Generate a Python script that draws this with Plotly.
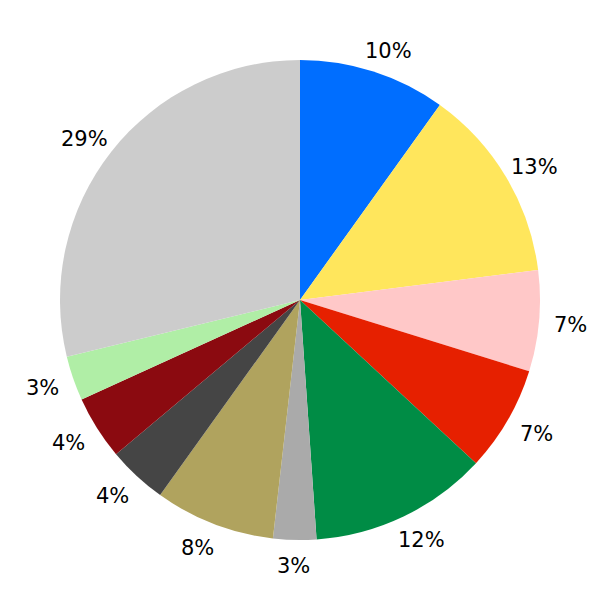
import math
import plotly.graph_objects as go

labels = ["A", "B", "C", "D", "E", "F", "G", "H", "I", "J", "K"]
values = [9.9, 13.1, 6.8, 7.1, 12.0, 2.9, 8.1, 4.0, 4.3, 3.0, 28.8]
colors = ["#006EFF", "#FFE65C", "#FFC8C8", "#E62000", "#008C45", "#AAAAAA",
          "#B0A35E", "#454545", "#8B0A10", "#B0EEA6", "#CCCCCC"]

fig = go.Figure(go.Pie(
    labels=labels, values=values, sort=False, direction="clockwise", rotation=0,
    marker=dict(colors=colors, line=dict(width=0)),
    textinfo="none",
    hoverinfo="label+percent",
    domain=dict(x=[0, 1], y=[0, 1]),
))

# percentage labels placed just outside the pie along each slice's mid-angle
total = sum(values)
cum = 0.0
for v in values:
    mid = (cum + v / 2) / total * 2 * math.pi
    cum += v
    s, c = math.sin(mid), math.cos(mid)
    fig.add_annotation(
        x=0.5 + 0.55 * s, y=0.5 + 0.55 * c,
        xref="paper", yref="paper", showarrow=False,
        xshift=8 * max(-1.0, min(1.0, s / 0.3)), yshift=-2,
        text=f"{round(v / total * 100)}%",
        font=dict(family="DejaVu Sans", size=21, color="black"),
        xanchor="center", yanchor="middle",
    )

fig.update_layout(
    width=592, height=592, showlegend=False,
    margin=dict(l=52, r=60, t=52, b=60),
    paper_bgcolor="white", plot_bgcolor="white",
)
fig.write_html("out.html")
